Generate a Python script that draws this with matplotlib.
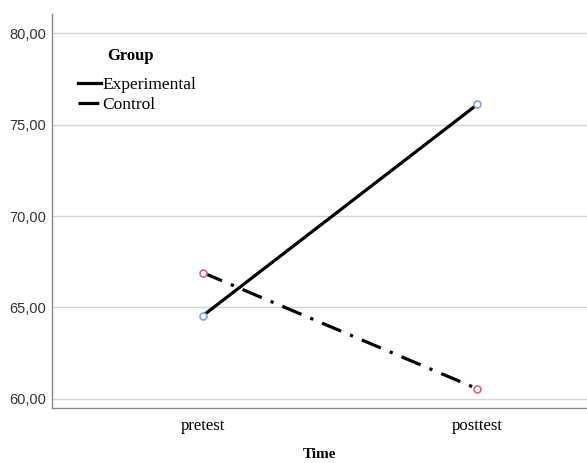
import matplotlib.pyplot as plt
from matplotlib.lines import Line2D
from matplotlib.ticker import FuncFormatter

# data
times = ['pretest', 'posttest']
experimental = [64.55, 76.1]
control = [66.9, 60.55]
yticks = [60, 65, 70, 75, 80]

fig = plt.figure(figsize=(5.87, 4.63), dpi=100)
ax = fig.add_axes([0.0886, 0.1188, 0.9114, 0.851])

x = list(range(len(times)))
lw = 2.3
dash = (6.5, 3, 1, 3)
ax.plot(x, experimental, color='black', lw=lw, solid_capstyle='butt', zorder=3)
ax.plot(x, control, color='black', lw=lw, dashes=dash, zorder=3)
ax.plot(x, experimental, 'o', ms=5, mfc='white', mec='#7ea6dc', mew=1.2, zorder=4)
ax.plot(x, control, 'o', ms=5, mfc='white', mec='#e0607e', mew=1.2, zorder=4)

ax.set_xlim(-0.55, 1.40)
ax.set_ylim(59.5, 81.05)
ax.set_yticks(yticks)
ax.yaxis.set_major_formatter(FuncFormatter(lambda v, p: f'{v:.2f}'.replace('.', ',')))
ax.set_xticks(x)
ax.set_xticklabels(times, family='Liberation Serif', fontsize=12)
for t in ax.get_yticklabels():
    t.set_family('Liberation Sans')
    t.set_fontsize(10.5)
    t.set_color('#333333')
ax.tick_params(length=0, pad=4)
ax.tick_params(axis='x', pad=7)

ax.grid(axis='y', color='#d4d4d4', lw=1.0)
ax.set_axisbelow(True)
for s in ['top', 'right']:
    ax.spines[s].set_visible(False)
for s in ['left', 'bottom']:
    ax.spines[s].set_color('#8a8a8a')
    ax.spines[s].set_linewidth(1.0)

ax.set_xlabel('Time', family='Liberation Serif', fontsize=11, fontweight='bold', labelpad=10)

ax.text(0.104, 0.894, 'Group', transform=ax.transAxes, family='Liberation Serif',
        fontsize=12, fontweight='bold', va='center', ha='left')
handles = [Line2D([], [], color='black', lw=lw),
           Line2D([], [], color='black', lw=lw, dashes=dash)]
leg = ax.legend(handles, ['Experimental', 'Control'], loc='upper left',
                bbox_to_anchor=(0.02, 0.88), frameon=False, handlelength=1.3,
                handletextpad=0.1, labelspacing=0.2,
                prop={'family': 'Liberation Serif', 'size': 12.5})

fig.savefig('out.png', dpi=100)
